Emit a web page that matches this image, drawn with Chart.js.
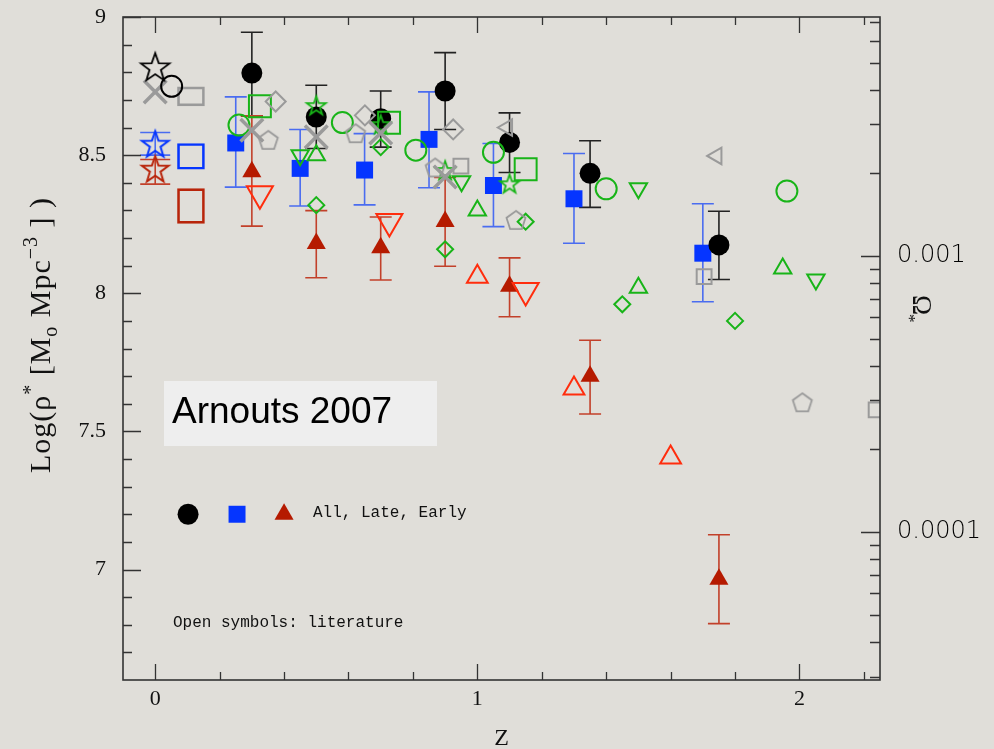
<!DOCTYPE html>
<html><head><meta charset="utf-8">
<script src="https://cdn.jsdelivr.net/npm/chart.js@4.4.1/dist/chart.umd.min.js"></script>
<style>html,body{margin:0;padding:0;background:#e0ded9;}canvas{display:block;}</style>
</head><body>
<canvas id="c" width="994" height="749"></canvas>
<script>
// ---------------- axes / ticks ----------------
const X_MIN = -0.1, X_MAX = 2.25;
const Y_MIN = 6.6, Y_MAX = 9;
const X_TICKS = [0, 1, 2];
const X_TICK_LABELS = ['0', '1', '2'];
const Y_TICKS = [7, 7.5, 8, 8.5, 9];
const Y_TICK_LABELS = ['7', '7.5', '8', '8.5', '9'];
const OMEGA_TICKS = [0.001, 0.0001];
const OMEGA_TICK_LABELS = ['0.001', '0.0001'];
const OMEGA_OFFSET = 11.135;           // log(rho*) - log(Omega*)
const X_TITLE = 'Z';

// ---------------- this work (filled, with errors) ----------------
const Z_ALL = [0.3, 0.5, 0.7, 0.9, 1.1, 1.35, 1.75];
const RHO_ALL = [8.797, 8.638, 8.632, 8.732, 8.546, 8.434, 8.175];
const RHO_ALL_LO = [8.642, 8.524, 8.529, 8.593, 8.437, 8.311, 8.05];
const RHO_ALL_HI = [8.945, 8.753, 8.732, 8.871, 8.653, 8.552, 8.297];

const Z_LATE = [0.25, 0.45, 0.65, 0.85, 1.05, 1.3, 1.7];
const RHO_LATE = [8.544, 8.452, 8.446, 8.557, 8.39, 8.342, 8.145];
const RHO_LATE_LO = [8.384, 8.316, 8.32, 8.382, 8.241, 8.181, 7.969];
const RHO_LATE_HI = [8.711, 8.593, 8.578, 8.729, 8.542, 8.506, 8.324];

const Z_EARLY = [0.3, 0.5, 0.7, 0.9, 1.1, 1.35, 1.75];
const RHO_EARLY = [8.44, 8.18, 8.165, 8.26, 8.025, 7.70, 6.965];
const RHO_EARLY_LO = [8.243, 8.056, 8.048, 8.098, 7.915, 7.563, 6.804];
const RHO_EARLY_HI = [8.642, 8.299, 8.276, 8.419, 8.128, 7.83, 7.126];

// legend key inside the plot
const Z_KEY = [0.102, 0.254, 0.40];
const RHO_KEY = 7.2;

// ---------------- literature (open symbols) ----------------
const Z_LIT_BSTAR = [0];      const RHO_LIT_BSTAR = [8.815];
const Z_LIT_BCIRC = [0.051];  const RHO_LIT_BCIRC = [8.749];
const Z_LIT_BLUESTAR = [0];   const RHO_LIT_BLUESTAR = [8.536];
const RHO_LIT_BLUESTAR_LO = [8.50]; const RHO_LIT_BLUESTAR_HI = [8.582];
const Z_LIT_REDSTAR = [0];    const RHO_LIT_REDSTAR = [8.446];
const RHO_LIT_REDSTAR_LO = [8.395]; const RHO_LIT_REDSTAR_HI = [8.484];
const Z_LIT_BOX = 0.111;
const RHO_BOX_GRAY = [8.678, 8.747];
const RHO_BOX_BLUE = [8.449, 8.542];
const RHO_BOX_RED = [8.253, 8.379];

const Z_GREEN_CIRC = [0.26, 0.581, 0.809, 1.05, 1.40, 1.961];
const RHO_GREEN_CIRC = [8.609, 8.618, 8.518, 8.51, 8.378, 8.37];
const Z_GREEN_SQ = [0.325, 0.726, 1.15];
const RHO_GREEN_SQ = [8.677, 8.617, 8.449];
const Z_GREEN_STAR = [0.5, 0.7, 0.9, 1.1];
const RHO_GREEN_STAR = [8.677, 8.608, 8.442, 8.394];
const Z_GREEN_UP = [0.5, 1.0, 1.5, 1.948];
const RHO_GREEN_UP = [8.50, 8.30, 8.02, 8.09];
const Z_GREEN_DOWN = [0.45, 0.951, 1.5, 2.051];
const RHO_GREEN_DOWN = [8.50, 8.405, 8.38, 8.05];
const Z_GREEN_DIAM = [0.5, 0.7, 0.9, 1.15, 1.45, 1.8];
const RHO_GREEN_DIAM = [8.319, 8.529, 8.159, 8.259, 7.96, 7.90];

const Z_GRAY_X = [0, 0.3, 0.5, 0.7, 0.9];
const RHO_GRAY_X = [8.729, 8.59, 8.566, 8.58, 8.421];
const Z_GRAY_DIAM = [0.374, 0.651, 0.925];
const RHO_GRAY_DIAM = [8.694, 8.644, 8.593];
const Z_GRAY_PENT = [0.351, 0.622, 0.869, 1.12, 2.009];
const RHO_GRAY_PENT = [8.552, 8.576, 8.452, 8.262, 7.602];
const Z_GRAY_SQ = [0.949, 1.704, 2.238];
const RHO_GRAY_SQ = [8.46, 8.06, 7.578];
const Z_GRAY_LTRI = [1.093, 1.743];
const RHO_GRAY_LTRI = [8.60, 8.497];

const Z_RED_DOWN = [0.325, 0.727, 1.15];
const RHO_RED_DOWN = [8.36, 8.26, 8.01];
const Z_RED_UP = [1.0, 1.3, 1.6];
const RHO_RED_UP = [8.06, 7.655, 7.405];

// ---------------- colours ----------------
const C_BLACK = '#000000', C_BLUE = '#0535ff', C_RED = '#b51a00';
const C_BLUE_ERR = '#4a6cf0', C_RED_ERR = '#c2402a', C_BLACK_ERR = '#222222';
const C_GREEN = '#18b418', C_GRAY = '#9a9a9a', C_ORANGE = '#ff2d0d', C_DARKRED = '#b8240a';
const CLEAR = 'rgba(0,0,0,0)';

// ---------------- marker images ----------------
function polyCanvas(n, R, rInner, color, lw) {
  const s = Math.ceil(2 * R + 2 * lw + 4);
  const cv = document.createElement('canvas');
  cv.width = s; cv.height = s;
  const g = cv.getContext('2d');
  g.translate(s / 2, s / 2);
  g.beginPath();
  const steps = rInner ? 2 * n : n;
  for (let k = 0; k < steps; k++) {
    const a = -Math.PI / 2 + k * 2 * Math.PI / steps;
    const r = rInner ? (k % 2 ? rInner : R) : R;
    const px = r * Math.cos(a), py = r * Math.sin(a);
    k ? g.lineTo(px, py) : g.moveTo(px, py);
  }
  g.closePath();
  g.lineJoin = 'miter';
  g.strokeStyle = color; g.lineWidth = lw; g.stroke();
  return cv;
}
const starImg = (R, c, lw) => polyCanvas(5, R, R * 0.4, c, lw);
const pentImg = (R, c, lw) => polyCanvas(5, R, 0, c, lw);

function pts(zs, vs) { return zs.map((z, i) => ({x: z, y: vs[i]})); }
function scat(label, zs, vs, style) {
  return Object.assign({type: 'scatter', label, data: pts(zs, vs), order: 1,
    pointHoverRadius: style.pointRadius, backgroundColor: CLEAR, borderWidth: 2}, style);
}
function box(label, vs, color) {
  return {type: 'bar', label, data: [{x: Z_LIT_BOX, y: vs}], order: 1,
    barThickness: 27, grouped: false, borderWidth: 2, borderSkipped: false,
    borderColor: color, backgroundColor: CLEAR};
}

const datasets = [
  // literature (drawn on top)
  scat('lit black star', Z_LIT_BSTAR, RHO_LIT_BSTAR, {pointStyle: starImg(15, C_BLACK, 1.8), pointRadius: 15, borderColor: C_BLACK}),
  scat('lit black circle', Z_LIT_BCIRC, RHO_LIT_BCIRC, {pointStyle: 'circle', pointRadius: 10.5, borderColor: C_BLACK}),
  scat('lit blue star', Z_LIT_BLUESTAR, RHO_LIT_BLUESTAR, {pointStyle: starImg(14, C_BLUE, 2), pointRadius: 14, borderColor: C_BLUE,
    errLo: RHO_LIT_BLUESTAR_LO, errHi: RHO_LIT_BLUESTAR_HI, errColor: C_BLUE_ERR, capHalf: 15}),
  scat('lit red star', Z_LIT_REDSTAR, RHO_LIT_REDSTAR, {pointStyle: starImg(14, C_DARKRED, 2), pointRadius: 14, borderColor: C_DARKRED,
    errLo: RHO_LIT_REDSTAR_LO, errHi: RHO_LIT_REDSTAR_HI, errColor: C_RED_ERR, capHalf: 15}),
  box('lit gray box', RHO_BOX_GRAY, C_GRAY),
  box('lit blue box', RHO_BOX_BLUE, C_BLUE),
  box('lit red box', RHO_BOX_RED, C_DARKRED),
  scat('gray X', Z_GRAY_X, RHO_GRAY_X, {pointStyle: 'crossRot', pointRadius: 16, borderColor: C_GRAY, borderWidth: 3.5}),
  scat('gray diamond', Z_GRAY_DIAM, RHO_GRAY_DIAM, {pointStyle: 'rectRot', pointRadius: 10, borderColor: C_GRAY}),
  scat('gray pentagon', Z_GRAY_PENT, RHO_GRAY_PENT, {pointStyle: pentImg(10, C_GRAY, 1.8), pointRadius: 10, borderColor: C_GRAY}),
  scat('gray square', Z_GRAY_SQ, RHO_GRAY_SQ, {pointStyle: 'rect', pointRadius: 10.5, borderColor: C_GRAY}),
  scat('gray left triangle', Z_GRAY_LTRI, RHO_GRAY_LTRI, {pointStyle: 'triangle', pointRotation: -90, pointRadius: 9.5, borderColor: C_GRAY}),
  scat('green circle', Z_GREEN_CIRC, RHO_GREEN_CIRC, {pointStyle: 'circle', pointRadius: 10.5, borderColor: C_GREEN}),
  scat('green square', Z_GREEN_SQ, RHO_GREEN_SQ, {pointStyle: 'rect', pointRadius: 15.5, borderColor: C_GREEN}),
  scat('green star', Z_GREEN_STAR, RHO_GREEN_STAR, {pointStyle: starImg(10, C_GREEN, 1.8), pointRadius: 10, borderColor: C_GREEN}),
  scat('green up', Z_GREEN_UP, RHO_GREEN_UP, {pointStyle: 'triangle', pointRadius: 10, borderColor: C_GREEN}),
  scat('green down', Z_GREEN_DOWN, RHO_GREEN_DOWN, {pointStyle: 'triangle', pointRotation: 180, pointRadius: 10, borderColor: C_GREEN}),
  scat('green diamond', Z_GREEN_DIAM, RHO_GREEN_DIAM, {pointStyle: 'rectRot', pointRadius: 8, borderColor: C_GREEN}),
  scat('red down', Z_RED_DOWN, RHO_RED_DOWN, {pointStyle: 'triangle', pointRotation: 180, pointRadius: 15, borderColor: C_ORANGE}),
  scat('red up', Z_RED_UP, RHO_RED_UP, {pointStyle: 'triangle', pointRadius: 12, borderColor: C_ORANGE}),
  // this work
  scat('All', Z_ALL, RHO_ALL, {pointStyle: 'circle', pointRadius: 10.5, borderWidth: 0, backgroundColor: C_BLACK, order: 2,
    errLo: RHO_ALL_LO, errHi: RHO_ALL_HI, errColor: C_BLACK_ERR, capHalf: 11}),
  scat('Late', Z_LATE, RHO_LATE, {pointStyle: 'rect', pointRadius: 12, borderWidth: 0, backgroundColor: C_BLUE, order: 2,
    errLo: RHO_LATE_LO, errHi: RHO_LATE_HI, errColor: C_BLUE_ERR, capHalf: 11}),
  scat('Early', Z_EARLY, RHO_EARLY, {pointStyle: 'triangle', pointRadius: 11, borderWidth: 0, backgroundColor: C_RED, order: 2,
    errLo: RHO_EARLY_LO, errHi: RHO_EARLY_HI, errColor: C_RED_ERR, capHalf: 11}),
  scat('key All', [Z_KEY[0]], [RHO_KEY], {pointStyle: 'circle', pointRadius: 10.5, borderWidth: 0, backgroundColor: C_BLACK}),
  scat('key Late', [Z_KEY[1]], [RHO_KEY], {pointStyle: 'rect', pointRadius: 12, borderWidth: 0, backgroundColor: C_BLUE}),
  scat('key Early', [Z_KEY[2]], [RHO_KEY], {pointStyle: 'triangle', pointRadius: 11, borderWidth: 0, backgroundColor: C_RED}),
];

// ---------------- plugins ----------------
const errorBars = {
  id: 'errorBars',
  beforeDatasetsDraw(chart) {
    const {ctx, scales: {x, y}} = chart;
    chart.data.datasets.forEach(ds => {
      if (!ds.errLo) return;
      ctx.save();
      ctx.strokeStyle = ds.errColor; ctx.lineWidth = 1.6;
      ds.data.forEach((p, i) => {
        const px = x.getPixelForValue(p.x);
        const lo = y.getPixelForValue(ds.errLo[i]), hi = y.getPixelForValue(ds.errHi[i]);
        const c = ds.capHalf;
        ctx.beginPath();
        ctx.moveTo(px, lo); ctx.lineTo(px, hi);
        ctx.moveTo(px - c, lo); ctx.lineTo(px + c, lo);
        ctx.moveTo(px - c, hi); ctx.lineTo(px + c, hi);
        ctx.stroke();
      });
      ctx.restore();
    });
  }
};

const frame = {
  id: 'frame',
  afterDatasetsDraw(chart) {
    const {ctx, chartArea: a, scales: {x, y}} = chart;
    ctx.save();
    ctx.strokeStyle = '#333'; ctx.lineWidth = 1.6;
    ctx.strokeRect(a.left, a.top, a.right - a.left, a.bottom - a.top);
    ctx.lineWidth = 1.3;
    ctx.beginPath();
    for (let k = 0; k <= 11; k++) {           // x ticks every 0.2, major every 1
      const px = Math.round(x.getPixelForValue(k * 0.2)) + 0.5;
      const len = k % 5 === 0 ? 16 : 8;
      ctx.moveTo(px, a.bottom); ctx.lineTo(px, a.bottom - len);
      ctx.moveTo(px, a.top); ctx.lineTo(px, a.top + len);
    }
    for (let k = 67; k <= 90; k++) {          // left ticks every 0.1, major every 0.5
      const py = Math.round(y.getPixelForValue(k / 10)) + 0.5;
      const len = k % 5 === 0 ? 18 : 9;
      ctx.moveTo(a.left, py); ctx.lineTo(a.left + len, py);
    }
    [1e-5, 1e-4, 1e-3].forEach(d => {         // right log ticks
      for (let m = 1; m <= 9; m++) {
        const v = Math.log10(m * d) + OMEGA_OFFSET;
        if (v <= Y_MIN || v >= Y_MAX) continue;
        const py = Math.round(y.getPixelForValue(v)) + 0.5;
        const len = m === 1 ? 19 : 10;
        ctx.moveTo(a.right, py); ctx.lineTo(a.right - len, py);
      }
    });
    ctx.stroke();
    ctx.restore();
  },
  afterDraw(chart) {
    const ctx = chart.ctx;
    ctx.save();
    // label box
    ctx.fillStyle = '#eeeeee';
    ctx.fillRect(164, 381, 273, 65);
    ctx.fillStyle = '#000';
    ctx.font = '37px "Liberation Sans", Arial, sans-serif';
    ctx.textBaseline = 'alphabetic'; ctx.textAlign = 'left';
    ctx.fillText('Arnouts 2007', 172, 423);
    // key texts
    ctx.fillStyle = '#111';
    ctx.font = '16px "Liberation Mono", monospace';
    ctx.fillText('All, Late, Early', 313, 517);
    ctx.fillText('Open symbols: literature', 173, 627);
    // y title with sub/superscripts
    const segs = [['Log(ρ', 0], ['*', 1], [' [M', 0], ['o', -1], [' Mpc', 0], ['−3', 1], [' ] )', 0]];
    const fs = 30;
    const fNorm = fs + 'px "Liberation Serif", serif', fSmall = Math.round(fs * 0.66) + 'px "Liberation Serif", serif';
    ctx.letterSpacing = '1px';
    let total = 0;
    segs.forEach(s => { ctx.font = s[1] ? fSmall : fNorm; total += ctx.measureText(s[0]).width; });
    ctx.translate(50, 335); ctx.rotate(-Math.PI / 2);
    let cx = -total / 2;
    segs.forEach(s => {
      ctx.font = s[1] ? fSmall : fNorm;
      const dy = s[1] === 1 ? -fs * 0.42 : s[1] === -1 ? fs * 0.22 : 0;
      ctx.fillText(s[0], cx, dy);
      cx += ctx.measureText(s[0]).width;
    });
    ctx.restore();
    // right title Omega*
    ctx.save();
    ctx.fillStyle = '#111';
    ctx.translate(922, 295); ctx.rotate(Math.PI / 2);
    ctx.font = '27px "Liberation Serif", serif';
    ctx.textBaseline = 'alphabetic';
    ctx.fillText('Ω', 0, 9);
    const w = ctx.measureText('Ω').width;
    ctx.font = '17px "Liberation Serif", serif';
    ctx.fillText('*', w - 1, 18);
    ctx.restore();
  }
};

const noPad = s => { s.paddingTop = 0; s.paddingBottom = 0; s.paddingLeft = 0; s.paddingRight = 0; };

// ---------------- chart ----------------
new Chart(document.getElementById('c'), {
  type: 'scatter',
  data: {datasets},
  options: {
    responsive: false,
    animation: false,
    devicePixelRatio: 1,
    layout: {autoPadding: false, padding: {top: 17, left: 0, right: 0, bottom: 0}},
    plugins: {legend: {display: false}, tooltip: {enabled: false}},
    scales: {
      x: {
        type: 'linear', position: 'bottom', min: X_MIN, max: X_MAX, offset: false,
        grid: {display: false, drawTicks: false, offset: false}, border: {display: false},
        afterBuildTicks: s => { s.ticks = X_TICKS.map(v => ({value: v})); },
        afterFit: s => { s.height = 69; noPad(s); },
        ticks: {autoSkip: false, maxRotation: 0, padding: 6, color: '#111',
          font: {family: '"Liberation Serif", serif', size: 22},
          callback: (v, i) => X_TICK_LABELS[i]},
        title: {display: true, text: X_TITLE, color: '#111',
          font: {family: '"Liberation Serif", serif', size: 24}, padding: {top: 0, bottom: -4}}
      },
      y: {
        type: 'linear', position: 'left', min: Y_MIN, max: Y_MAX, beginAtZero: false,
        grid: {display: false, drawTicks: false}, border: {display: false},
        afterBuildTicks: s => { s.ticks = Y_TICKS.map(v => ({value: v})); },
        afterFit: s => { s.width = 123; noPad(s); },
        ticks: {autoSkip: false, padding: 17, color: '#111',
          font: {family: '"Liberation Serif", serif', size: 22},
          callback: (v, i) => Y_TICK_LABELS[i]}
      },
      y2: {
        type: 'linear', position: 'right', min: Y_MIN, max: Y_MAX, beginAtZero: false,
        grid: {display: false, drawTicks: false}, border: {display: false},
        afterBuildTicks: s => { s.ticks = OMEGA_TICKS.map(v => ({value: Math.log10(v) + OMEGA_OFFSET})); },
        afterFit: s => { s.width = 114; noPad(s); },
        ticks: {autoSkip: false, padding: 17, color: '#000',
          font: {family: '"DejaVu Sans", sans-serif', size: 24, weight: 200},
          callback: (v, i) => OMEGA_TICK_LABELS[i]}
      }
    }
  },
  plugins: [errorBars, frame]
});
</script>
</body></html>
